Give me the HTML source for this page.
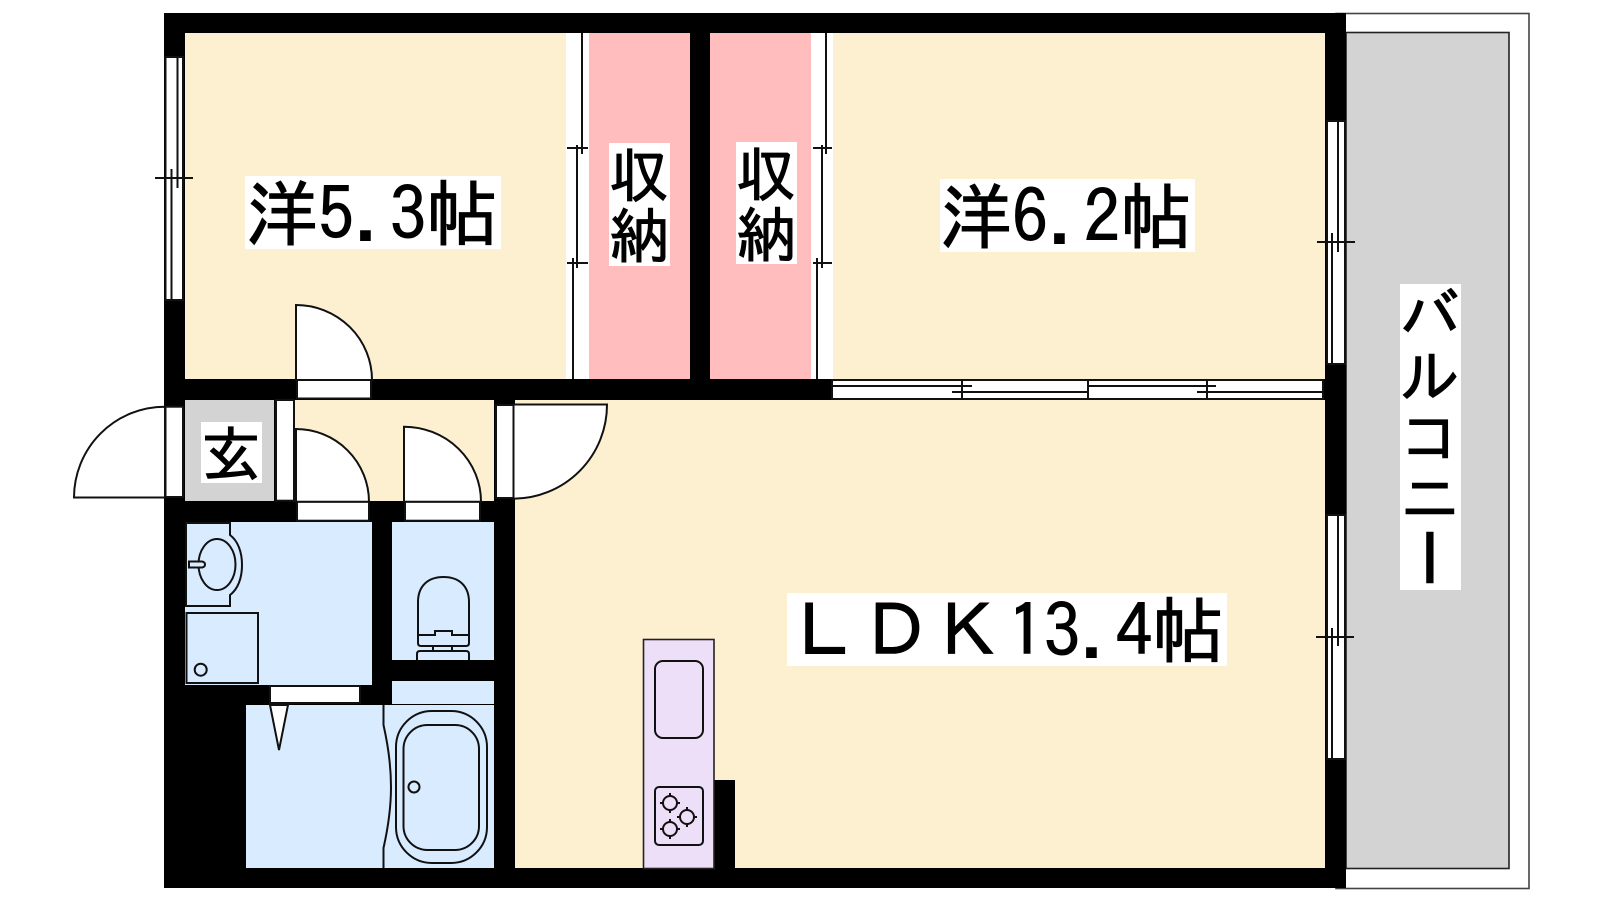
<!DOCTYPE html>
<html><head><meta charset="utf-8"><style>
html,body{margin:0;padding:0;background:#fff;width:1600px;height:900px;overflow:hidden}
svg{display:block}
text{font-family:"IPAGothic","Liberation Sans","Noto Sans CJK JP",sans-serif;fill:#000;stroke:#000;stroke-width:1}
.l{stroke:#111;stroke-width:2;fill:none}
.d{stroke:#111;stroke-width:2;fill:#fff}
.f{stroke:#111;stroke-width:2;fill:none}
</style></head><body>
<svg width="1600" height="900" viewBox="0 0 1600 900" xmlns="http://www.w3.org/2000/svg">
<!-- balcony -->
<rect x="1336" y="13.5" width="193" height="875" fill="#fff" stroke="#444" stroke-width="1.6"/>
<rect x="1346" y="32.5" width="163" height="836" fill="#d3d3d3" stroke="#222" stroke-width="1.6"/>
<!-- walls base -->
<rect x="164" y="13" width="1182" height="875" fill="#000"/>
<!-- rooms -->
<rect x="185" y="33" width="381" height="346" fill="#fdf0d0"/>
<rect x="566" y="33" width="23" height="346" fill="#fff"/>
<rect x="589" y="33" width="101" height="346" fill="#ffbdbd"/>
<rect x="710" y="33" width="101" height="346" fill="#ffbdbd"/>
<rect x="811" y="33" width="22" height="346" fill="#fff"/>
<rect x="833" y="33" width="492" height="346" fill="#fdf0d0"/>
<rect x="515" y="400" width="810" height="468" fill="#fdf0d0"/>
<rect x="294" y="400" width="200" height="101" fill="#fdf0d0"/>
<rect x="185" y="400" width="89" height="101" fill="#d3d3d3"/>
<rect x="185" y="522" width="187" height="163" fill="#d9ebff"/>
<rect x="392" y="522" width="102" height="138" fill="#d9ebff"/>
<rect x="392" y="681" width="102" height="23" fill="#d9ebff"/>
<rect x="246" y="705" width="248" height="163" fill="#d9ebff"/>
<rect x="714" y="780" width="21" height="88" fill="#000"/>

<!-- left window -->
<rect x="165.5" y="57" width="17.5" height="243" class="d"/>
<path class="l" d="M177.5 57V188M171.5 169V300M155 178H193"/>
<!-- right windows -->
<rect x="1327" y="121" width="18" height="243" class="d"/>
<path class="l" d="M1338 121V252M1332 233V364M1317 242H1355"/>
<rect x="1327" y="515" width="18" height="244" class="d"/>
<path class="l" d="M1338 515V646M1332 628V759M1316 637H1354"/>
<!-- horizontal window -->
<rect x="832" y="380" width="491" height="19" class="d"/>
<path class="l" d="M832 386H972M952 392H1088M962 380V399M1088 380V399M1088 386H1216M1197 392H1323M1207 380V399"/>
<!-- closet doors -->
<path class="l" d="M582 33V154M577 145V268M573 258V379M567 148H588M567 263H588"/>
<path class="l" d="M826 33V154M822 145V268M817 258V379M813 148H832M813 263H832"/>

<!-- door 1 -->
<rect x="297" y="380" width="74" height="18.5" class="d"/>
<path class="d" d="M296 380V305A76 75 0 0 1 372 380Z"/>
<!-- entry door & sills -->
<rect x="165.5" y="406.7" width="17.5" height="90.3" class="d"/>
<path class="d" d="M165 406.7A91 91 0 0 0 74 497.5H165Z"/>
<rect x="276" y="400" width="18" height="100.7" class="d"/>
<!-- door 2 -->
<rect x="297" y="501.7" width="72" height="19" class="d"/>
<path class="d" d="M296 501.7V429A73 73 0 0 1 369 501.7Z"/>
<!-- door 3 -->
<rect x="405" y="501.7" width="75" height="19" class="d"/>
<path class="d" d="M404 501.7V426.7A77 75 0 0 1 481 501.7Z"/>
<!-- door 4 -->
<rect x="496" y="405" width="17.5" height="93" class="d"/>
<path class="d" d="M513.5 404.5H607A94 94 0 0 1 513.5 498.7Z"/>
<!-- bath door -->
<rect x="270" y="686" width="90" height="17" class="d"/>
<path class="d" d="M270 705H288L279 750Z"/>

<!-- vanity -->
<path class="f" d="M186 523H230V535C238 541 242 552 242 565C242 578 238 589 230 595V606H186Z"/>
<ellipse class="f" cx="217" cy="564.5" rx="18.5" ry="25.5"/>
<path d="M189 561.5H202Q205 562 205 564.5Q205 567 202 567.5H189Z" fill="#d9ebff" stroke="#111" stroke-width="2"/>
<!-- washer -->
<rect class="f" x="186.5" y="613" width="71.5" height="70"/>
<circle class="f" cx="200.7" cy="669.7" r="6"/>
<!-- toilet -->
<path class="f" d="M418 635V602C418 586 428 577 443.500 577C459 577 469 586 469 602V635M418 635V643Q418 646 421 646H466Q469 646 469 643V635M417 635H435V631H452V635H469M433 646V651M452 646V651M417 660V654Q417 651 420 651H466Q469 651 469 654V660"/>
<!-- bath -->
<path class="f" d="M383.500 705V725C388 745 391 765 391 787C391 808 388 828 383.500 848V868"/>
<rect class="f" x="396" y="711" width="91" height="152" rx="36" ry="36"/>
<rect class="f" x="403.500" y="725" width="75.500" height="125" rx="24" ry="24"/>
<circle class="f" cx="414" cy="787" r="5.500"/>
<!-- kitchen -->
<rect x="643.500" y="639.500" width="70.500" height="229" fill="#ecdff7" stroke="#222" stroke-width="1.6"/>
<rect class="f" x="655" y="661" width="48" height="77" rx="8" ry="8"/>
<rect class="f" x="655" y="787" width="48" height="58" rx="4" ry="4"/>
<circle class="f" cx="670" cy="803" r="7"/><circle class="f" cx="687" cy="817" r="7"/><circle class="f" cx="670" cy="829" r="7"/>
<path class="l" d="M670 793V796M670 810V813M660 803H663M677 803H680M687 807V810M687 824V827M677 817H680M694 817H697M670 819V822M670 836V839M660 829H663M677 829H680"/>

<!-- labels -->
<rect x="245" y="176" width="256" height="73" fill="#fff"/>
<text x="246" y="240" font-size="72">洋5.3帖</text>
<rect x="940" y="179" width="255" height="73" fill="#fff"/>
<text x="940" y="243" font-size="72">洋6.2帖</text>
<rect x="787" y="593" width="440" height="73" fill="#fff"/>
<text x="788" y="657" font-size="72">ＬＤＫ</text>
<text x="1008" y="657" font-size="72">13.4帖</text>
<rect x="609" y="143" width="61" height="123" fill="#fff"/>
<text x="609" y="197" font-size="60">収</text><text x="609" y="258" font-size="60">納</text>
<rect x="736" y="142" width="61" height="122" fill="#fff"/>
<text x="736" y="196" font-size="60">収</text><text x="736" y="257" font-size="60">納</text>
<rect x="201" y="422" width="61" height="61" fill="#fff"/>
<text x="201" y="476" font-size="60">玄</text>
<rect x="1400" y="284" width="61" height="306" fill="#fff"/>
<text x="1400" y="337" font-size="60">バ</text>
<text x="1400" y="398" font-size="60">ル</text>
<text x="1400" y="459" font-size="60">コ</text>
<text x="1400" y="520" font-size="60">ニ</text>
<text transform="translate(1430,557.500) rotate(90)" x="0" y="23" text-anchor="middle" font-size="60" style="stroke-width:2.500">ー</text>
</svg>
</body></html>
